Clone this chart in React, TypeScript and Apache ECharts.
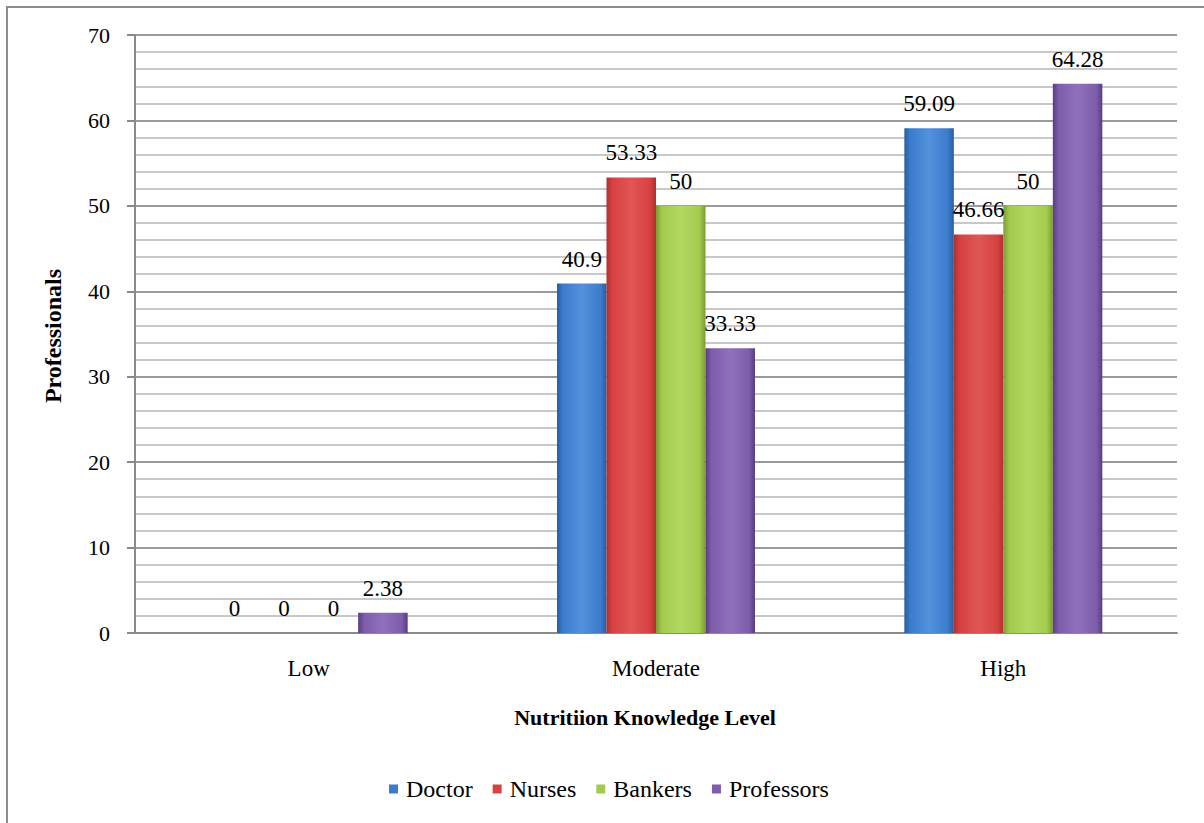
import React, { useEffect, useRef } from "react";
import * as echarts from "echarts";

const categories = ["Low", "Moderate", "High"];
const seriesNames = ["Doctor", "Nurses", "Bankers", "Professors"];
const doctor = [0, 40.9, 59.09];
const nurses = [0, 53.33, 46.66];
const bankers = [0, 50, 50];
const professors = [2.38, 33.33, 64.28];
const seriesValues = [doctor, nurses, bankers, professors];

const xTitle = "Nutritiion Knowledge Level";
const yTitle = "Professionals";

// [edge, main, light]
const palette = [
  ["#285d9e", "#3b7ccc", "#5391dc"],
  ["#b02f2f", "#d64141", "#e05656"],
  ["#7c9b33", "#a3cb4d", "#b3d862"],
  ["#573d80", "#7e5dac", "#8f71bb"],
];

const FONT = "Liberation Serif";

function grad(c: string[]) {
  return new echarts.graphic.LinearGradient(0, 0, 1, 0, [
    { offset: 0, color: c[0] },
    { offset: 0.12, color: c[1] },
    { offset: 0.5, color: c[2] },
    { offset: 0.88, color: c[1] },
    { offset: 1, color: c[0] },
  ]);
}

export default function App() {
  const ref = useRef<HTMLDivElement>(null);
  useEffect(() => {
    document.body.style.margin = "0";
    if (!ref.current) return;
    const chart = echarts.init(ref.current, undefined, { renderer: "svg" });
    chart.setOption({
      animation: false,
      backgroundColor: "#ffffff",
      textStyle: { fontFamily: FONT },
      grid: { left: 135, right: 27, top: 35, bottom: 190, containLabel: false },
      legend: {
        data: seriesNames.map((n, i) => ({ name: n, itemStyle: { color: palette[i][1] } })),
        left: 384,
        top: 772,
        icon: "rect",
        itemWidth: 9,
        itemHeight: 9,
        itemGap: 20,
        textStyle: { fontFamily: FONT, fontSize: 24, color: "#000", padding: [0, 0, 0, 3] },
      },
      xAxis: {
        type: "category",
        data: categories,
        axisLine: { show: true, lineStyle: { color: "#8a8a8a", width: 2 } },
        axisTick: { show: false },
        axisLabel: { margin: 24, fontFamily: FONT, fontSize: 23, color: "#000" },
        splitLine: { show: false },
      },
      yAxis: {
        type: "value",
        min: 0,
        max: 70,
        interval: 10,
        axisLine: { show: true, lineStyle: { color: "#8a8a8a", width: 2 } },
        axisTick: { show: true, length: 8, lineStyle: { color: "#8a8a8a", width: 2 } },
        axisLabel: { margin: 25, fontFamily: FONT, fontSize: 22, color: "#000" },
        splitLine: { show: true, lineStyle: { color: "#9a9a9a", width: 2 } },
        minorTick: { show: false, splitNumber: 5 },
        minorSplitLine: { show: true, lineStyle: { color: "#c8c8c8", width: 2 } },
      },
      series: seriesNames.map((name, i) => ({
        name,
        type: "bar",
        data: seriesValues[i],
        barGap: "0%",
        barCategoryGap: "43%",
        itemStyle: { color: grad(palette[i]), borderWidth: 0 },
        label: {
          show: true,
          position: "top",
          distance: 13,
          fontFamily: FONT,
          fontSize: 23,
          color: "#000",
        },
      })),
      graphic: [
        {
          type: "rect",
          shape: { x: 7, y: 7, width: 1230, height: 850 },
          style: { fill: "none", stroke: "#8c8c8c", lineWidth: 2 },
          silent: true,
        },
        {
          type: "text",
          x: 645,
          y: 717,
          style: {
            text: xTitle,
            fontFamily: FONT,
            fontSize: 22,
            fontWeight: "bold",
            fill: "#000",
            align: "center",
            verticalAlign: "middle",
          },
        },
        {
          type: "text",
          x: 53,
          y: 336,
          rotation: Math.PI / 2,
          style: {
            text: yTitle,
            fontFamily: FONT,
            fontSize: 24,
            fontWeight: "bold",
            fill: "#000",
            align: "center",
            verticalAlign: "middle",
          },
        },
      ],
    });
    return () => chart.dispose();
  }, []);
  return <div ref={ref} style={{ width: 1204, height: 823 }} />;
}
